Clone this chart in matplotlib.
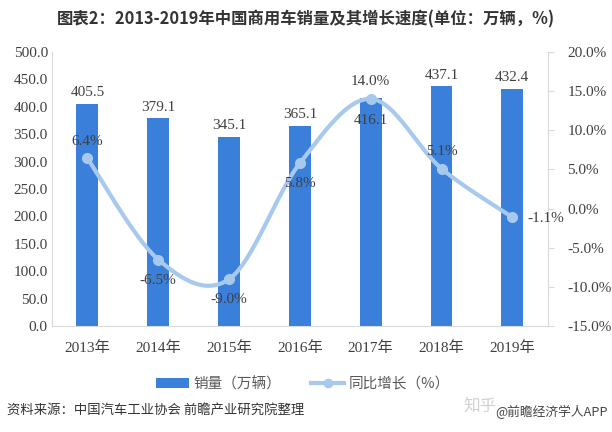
'''
2013-2019 commercial vehicle sales with yoy growth
'''

import numpy as np
import matplotlib
matplotlib.use("Agg")
import matplotlib.pyplot as plt
from matplotlib.lines import Line2D
from matplotlib.patches import Patch

plt.rcParams['font.family'] = ['Liberation Serif', 'Noto Sans CJK SC', 'DejaVu Sans']
CJK = ["Noto Sans CJK SC", "DejaVu Sans"]

#########################################

years = ["2013年", "2014年", "2015年", "2016年", "2017年", "2018年", "2019年"]
sales = [405.5, 379.1, 345.1, 365.1, 416.1, 437.1, 432.4]
growth = [6.4, -6.5, -9.0, 5.8, 14.0, 5.1, -1.1]
# where each label goes relative to its mark
growthPos = ["above", "below", "below", "below", "above", "above", "right"]
salesPos = ["above", "above", "above", "above", "inside", "above", "above"]

barColor = "#3a7fd9"
lineColor = "#a8c9ee"
textColor = "#404040"


#########################################

def smoothCurve(x, y, steps=30):
  '''Catmull-Rom style smoothing, like an Excel smoothed line'''
  x = np.asarray(x, dtype=float)
  y = np.asarray(y, dtype=float)
  px = np.concatenate([[x[0]], x, [x[-1]]])
  py = np.concatenate([[y[0]], y, [y[-1]]])
  outX, outY = [], []
  t = np.linspace(0, 1, steps)
  for i in range(1, len(px) - 2):
    p0 = np.array([px[i], py[i]])
    p3 = np.array([px[i + 1], py[i + 1]])
    c1 = p0 + (np.array([px[i + 1], py[i + 1]]) - np.array([px[i - 1], py[i - 1]])) / 6.0
    c2 = p3 - (np.array([px[i + 2], py[i + 2]]) - np.array([px[i], py[i]])) / 6.0
    b = ((1 - t) ** 3)[:, None] * p0 + (3 * (1 - t) ** 2 * t)[:, None] * c1 \
        + (3 * (1 - t) * t ** 2)[:, None] * c2 + (t ** 3)[:, None] * p3
    outX.extend(b[:, 0])
    outY.extend(b[:, 1])
  return np.array(outX), np.array(outY)


#########################################

fig = plt.figure(figsize=(6.12, 4.32), dpi=100)
ax = fig.add_axes([0.085, 0.245, 0.81, 0.635])
ax2 = ax.twinx()

x = np.arange(len(years))
ax.bar(x, sales, width=0.31, color=barColor, zorder=2)

ax.set_xlim(-0.5, len(years) - 0.5)
ax.set_ylim(0, 500)
ax.set_yticks(np.arange(0, 501, 50))
ax.set_yticklabels(["%.1f" % v for v in np.arange(0, 501, 50)])
ax.set_xticks(x)
ax.set_xticklabels(years)
ax.tick_params(axis="both", length=0, labelsize=11, colors=textColor)
ax.tick_params(axis="x", pad=11)
ax.tick_params(axis="y", pad=3)
for s in ["top", "right"]:
  ax.spines[s].set_visible(False)
ax.spines["left"].set_color("#d9d9d9")
ax.spines["bottom"].set_color("#d9d9d9")

# growth line on the right axis
sx, sy = smoothCurve(x, growth)
ax2.plot(sx, sy, color=lineColor, lw=3, solid_capstyle="round", zorder=3)
ax2.plot(x, growth, "o", color=lineColor, ms=7, zorder=4)
ax2.set_ylim(-15, 20)
ax2.set_yticks(np.arange(-15, 21, 5))
ax2.set_yticklabels(["%.1f%%" % v for v in np.arange(-15, 21, 5)])
ax2.tick_params(axis="y", length=4, color="#d9d9d9", labelsize=11, colors=textColor, pad=10)
for s in ["top", "left", "bottom"]:
  ax2.spines[s].set_visible(False)
ax2.spines["right"].set_color("#d9d9d9")

# bar labels (drawn on ax2 so they sit above the line)
for xi, v, pos in zip(x, sales, salesPos):
  yy = ax2.transData.inverted().transform(ax.transData.transform((xi, v)))[1]
  off = 8 if pos == "above" else -16
  ax2.annotate("%.1f" % v, (xi, yy), xytext=(0, off), textcoords="offset points",
               ha="center", va="center", fontsize=11, color=textColor, zorder=5)

# growth labels
for xi, g, pos in zip(x, growth, growthPos):
  lab = "%.1f%%" % g
  if pos == "above":
    off, ha = (0, 12.5), "center"
  elif pos == "below":
    off, ha = (0, -15), "center"
  else:
    off, ha = (11, -1), "left"
  ax2.annotate(lab, (xi, g), xytext=off, textcoords="offset points",
               ha=ha, va="center", fontsize=11, color=textColor, zorder=5)

# title
fig.text(0.5, 0.954, "图表2：2013-2019年中国商用车销量及其增长速度(单位：万辆，%)",
         ha="center", va="center", fontsize=11.8, fontweight="bold", color="#333333", family=CJK)

# legend
handles = [Patch(facecolor=barColor, edgecolor="none"),
           Line2D([0], [0], color=lineColor, lw=3, marker="o", ms=6)]
fig.legend(handles, ["销量（万辆）", "同比增长（%）"], loc="center", bbox_to_anchor=(0.495, 0.111),
           ncol=2, frameon=False, handlelength=2.3, handleheight=0.6, columnspacing=2.0,
           handletextpad=0.3, prop={"family": CJK, "size": 10.5}, labelcolor="#595959")

# source and watermark
fig.text(0.012, 0.049, "资料来源：中国汽车工业协会 前瞻产业研究院整理", ha="left", va="center",
         fontsize=9.6, color="#333333", family=CJK)
fig.text(0.757, 0.06, "知乎", ha="left", va="center", fontsize=12, color="#d0d0d0", family=CJK)
fig.text(0.809, 0.047, "@前瞻经济学人APP", ha="left", va="center", fontsize=9.2, color="#444444", family=CJK)

plt.savefig("out.png", dpi=100)
plt.close()
